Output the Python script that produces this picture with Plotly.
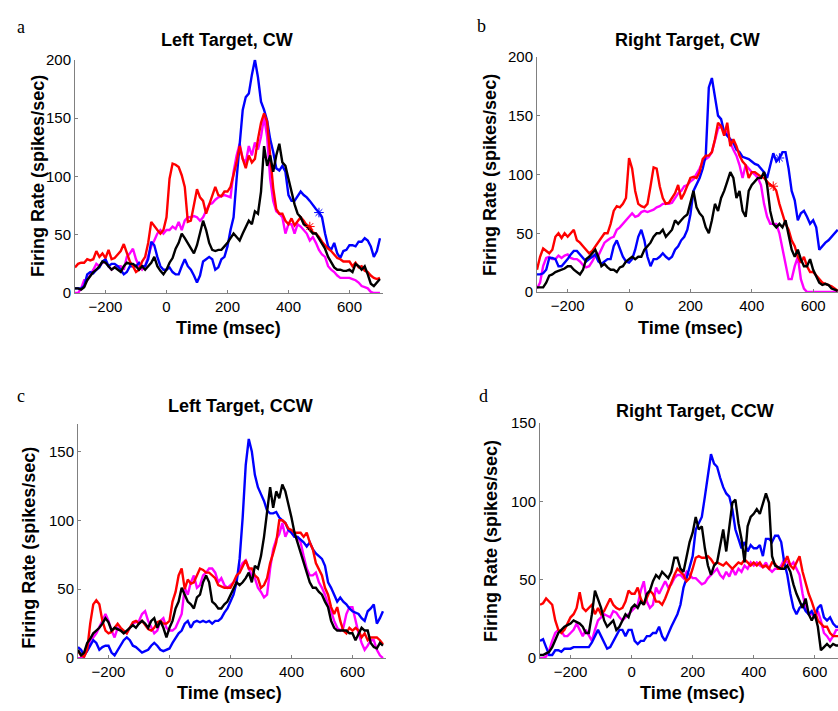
import plotly.graph_objects as go

# ---------------- data (firing rate, spikes/sec) ----------------
TIME = list(range(-300, 710, 10))  # msec, 10 ms bins

# Panel a: Left Target, CW  (-300 .. 700)
A_BLUE = [4, 4, 4, 6, 16, 18, 17, 20, 22, 27,
          29, 23, 25, 25, 23, 20, 16, 18, 23, 23,
          23, 26, 23, 23, 29, 44, 41, 31, 23, 20,
          20, 22, 18, 16, 16, 23, 29, 23, 20, 15,
          9, 15, 27, 29, 31, 29, 20, 22, 29, 31,
          40, 54, 65, 98, 126, 157, 168, 171, 187, 200,
          185, 164, 157, 148, 132, 121, 107, 105, 109, 104,
          84, 79, 79, 83, 87, 84, 82, 79, 75, 72,
          69, 65, 51, 40, 37, 43, 34, 30, 36, 37,
          41, 41, 40, 44, 44, 47, 45, 40, 31, 36,
          47]
A_RED = [22, 25, 26, 26, 29, 28, 29, 36, 31, 34,
         30, 37, 29, 30, 33, 36, 42, 34, 27, 23,
         18, 20, 27, 31, 43, 61, 57, 54, 51, 54,
         65, 98, 111, 110, 108, 101, 91, 61, 62, 76,
         89, 82, 79, 68, 76, 83, 91, 84, 83, 87,
         87, 91, 101, 112, 126, 115, 107, 118, 112, 115,
         132, 146, 154, 147, 118, 90, 72, 68, 68, 62,
         59, 64, 58, 62, 65, 62, 58, 57, 52, 51,
         48, 44, 41, 38, 36, 33, 30, 29, 27, 27,
         27, 23, 26, 22, 23, 19, 18, 15, 13, 12,
         13]
A_MAGENTA = [0, 0, 4, 11, 11, 15, 20, 25, 23, 26,
             27, 23, 20, 22, 23, 23, 20, 31, 34, 38,
             29, 23, 20, 23, 31, 40, 45, 51, 54, 51,
             54, 54, 57, 55, 61, 54, 62, 65, 65, 66,
             65, 62, 65, 70, 76, 77, 80, 82, 83, 84,
             83, 82, 104, 118, 128, 115, 112, 126, 118, 129,
             123, 134, 151, 134, 98, 79, 70, 68, 65, 51,
             59, 59, 51, 59, 57, 54, 51, 45, 48, 43,
             37, 33, 31, 23, 20, 18, 15, 13, 13, 13,
             13, 12, 11, 9, 6, 5, 4, 1, 0, 0,
             0]
A_BLACK = [4, 4, 3, 5, 11, 15, 18, 20, 23, 27,
           26, 23, 20, 22, 20, 18, 23, 26, 25, 25,
           23, 20, 23, 20, 23, 26, 31, 23, 19, 16,
           20, 26, 30, 38, 43, 51, 47, 43, 38, 34,
           41, 51, 62, 54, 43, 37, 36, 37, 37, 40,
           43, 47, 51, 48, 45, 51, 57, 62, 59, 70,
           68, 87, 126, 109, 118, 104, 118, 128, 112, 109,
           98, 87, 76, 68, 65, 59, 57, 54, 51, 51,
           47, 43, 38, 31, 26, 22, 20, 20, 19, 19,
           20, 18, 25, 23, 20, 23, 16, 8, 6, 9,
           12]

# Panel b: Right Target, CW  (-300 .. 680)
B_BLUE = [15, 15, 16, 19, 29, 29, 28, 22, 22, 25,
          28, 32, 35, 35, 32, 29, 26, 28, 30, 32,
          26, 24, 26, 28, 28, 39, 44, 37, 30, 26,
          25, 28, 36, 47, 53, 44, 30, 22, 28, 28,
          30, 33, 30, 28, 30, 36, 39, 44, 47, 53,
          66, 86, 91, 97, 105, 116, 174, 182, 166, 150,
          147, 136, 133, 130, 127, 121, 119, 115, 114, 113,
          111, 109, 108, 105, 102, 97, 108, 118, 111, 114,
          119, 119, 105, 86, 78, 61, 67, 69, 64, 58,
          61, 55, 36, 39, 42, 44, 47, 50, 53]
B_RED = [19, 30, 37, 35, 33, 36, 47, 50, 46, 50,
         47, 50, 53, 44, 42, 39, 36, 33, 35, 39,
         42, 47, 50, 50, 58, 69, 73, 72, 75, 80,
         114, 105, 86, 75, 73, 72, 75, 90, 106, 105,
         90, 80, 75, 76, 80, 84, 91, 79, 84, 91,
         97, 98, 97, 102, 113, 116, 116, 119, 130, 144,
         141, 133, 144, 124, 130, 124, 116, 111, 108, 97,
         102, 102, 100, 98, 97, 94, 91, 90, 86, 75,
         66, 58, 53, 44, 39, 30, 25, 30, 22, 17,
         17, 14, 11, 8, 7, 6, 5, 3, 1]
B_MAGENTA = [3, 8, 22, 29, 30, 28, 28, 31, 29, 31,
             32, 29, 28, 28, 26, 23, 21, 22, 26, 31,
             31, 36, 42, 44, 46, 47, 53, 55, 58, 61,
             64, 67, 64, 65, 68, 69, 68, 69, 70, 72,
             73, 75, 75, 75, 76, 80, 84, 86, 90, 91,
             94, 96, 100, 105, 111, 113, 115, 119, 130, 139,
             141, 137, 136, 127, 121, 116, 108, 97, 108, 105,
             102, 100, 97, 91, 75, 64, 58, 58, 58, 50,
             36, 22, 11, 11, 22, 30, 11, 3, 0, 0,
             0, 0, 0, 0, 0, 0, 0, 0, 0]
B_BLACK = [4, 4, 4, 8, 14, 15, 17, 18, 19, 20,
           22, 22, 19, 17, 15, 19, 28, 30, 33, 36,
           30, 22, 24, 21, 19, 19, 17, 21, 22, 26,
           28, 30, 28, 30, 30, 36, 39, 42, 47, 50,
           50, 53, 47, 50, 53, 61, 58, 61, 64, 66,
           75, 86, 72, 67, 64, 55, 50, 61, 75, 69,
           80, 86, 94, 102, 97, 80, 86, 69, 64, 86,
           91, 94, 97, 97, 102, 91, 69, 58, 55, 58,
           55, 61, 47, 36, 30, 36, 28, 22, 22, 28,
           19, 14, 8, 6, 7, 6, 3, 2, 1]

# Panel c: Left Target, CCW  (-300 .. 700)
C_BLUE = [8, 6, 2, 5, 9, 13, 11, 6, 8, 9,
          9, 4, 2, 6, 9, 13, 15, 13, 9, 8,
          6, 4, 5, 6, 9, 11, 9, 6, 5, 6,
          7, 11, 15, 18, 20, 25, 27, 22, 26, 27,
          26, 27, 26, 27, 25, 27, 27, 29, 33, 36,
          41, 46, 55, 72, 102, 140, 159, 150, 133, 124,
          119, 114, 107, 105, 105, 106, 102, 100, 98, 93,
          91, 88, 88, 86, 84, 81, 84, 79, 76, 74,
          72, 67, 55, 51, 46, 41, 44, 41, 39, 36,
          34, 33, 32, 29, 27, 34, 36, 39, 25, 29,
          34]
C_RED = [5, 2, 1, 6, 25, 39, 42, 39, 27, 20,
         18, 19, 22, 25, 22, 20, 18, 22, 26, 27,
         25, 27, 24, 21, 20, 22, 26, 27, 25, 25,
         27, 41, 48, 60, 65, 50, 57, 54, 55, 60,
         65, 64, 62, 62, 60, 58, 53, 52, 51, 51,
         51, 55, 60, 62, 66, 71, 65, 65, 60, 58,
         51, 53, 58, 69, 76, 84, 100, 100, 98, 94,
         93, 91, 91, 91, 88, 91, 84, 79, 69, 65,
         60, 51, 46, 37, 32, 37, 27, 20, 18, 22,
         20, 22, 20, 15, 18, 13, 15, 15, 15, 13,
         10]
C_MAGENTA = [0, 0, 1, 6, 13, 15, 18, 22, 27, 32,
             27, 20, 15, 22, 20, 19, 18, 22, 25, 26,
             27, 32, 34, 27, 22, 18, 20, 27, 29, 22,
             20, 20, 22, 27, 32, 51, 46, 55, 60, 51,
             53, 60, 62, 65, 65, 62, 55, 58, 53, 51,
             53, 55, 58, 65, 69, 71, 65, 60, 58, 51,
             48, 44, 46, 65, 79, 86, 90, 98, 88, 93,
             91, 88, 88, 84, 74, 65, 60, 60, 62, 55,
             51, 46, 39, 34, 27, 22, 20, 22, 32, 37,
             37, 27, 18, 11, 6, 9, 13, 13, 6, 2,
             0]
C_BLACK = [6, 2, 4, 11, 14, 18, 20, 22, 25, 29,
           26, 20, 22, 21, 20, 18, 20, 22, 24, 22,
           25, 27, 25, 22, 27, 29, 22, 27, 22, 15,
           22, 27, 36, 41, 51, 46, 41, 39, 36, 44,
           46, 55, 60, 55, 41, 39, 36, 36, 39, 41,
           46, 51, 55, 53, 55, 58, 62, 55, 67, 65,
           74, 88, 105, 124, 109, 121, 116, 126, 121, 112,
           102, 91, 84, 76, 69, 62, 55, 51, 51, 48,
           46, 41, 37, 27, 22, 20, 20, 20, 20, 18,
           18, 13, 18, 22, 20, 20, 11, 8, 7, 11,
           9]

# Panel d: Right Target, CCW  (-300 .. 680)
D_BLUE = [11, 12, 7, 2, 2, 5, 5, 4, 6, 6,
          6, 7, 7, 7, 7, 7, 7, 10, 14, 18,
          14, 10, 6, 7, 11, 14, 18, 18, 14, 18,
          18, 11, 9, 11, 11, 14, 14, 16, 16, 20,
          14, 11, 16, 20, 24, 28, 34, 45, 51, 59,
          65, 82, 86, 90, 103, 117, 130, 124, 122, 115,
          109, 105, 103, 95, 82, 76, 70, 74, 68, 72,
          70, 70, 72, 65, 76, 76, 74, 78, 78, 74,
          61, 53, 41, 32, 28, 32, 34, 30, 28, 30,
          26, 32, 34, 26, 24, 26, 22, 20, 20]
D_RED = [34, 35, 38, 36, 34, 24, 18, 16, 18, 22,
         26, 28, 32, 42, 32, 30, 32, 34, 28, 32,
         28, 30, 34, 38, 34, 32, 31, 32, 36, 43,
         41, 41, 45, 38, 34, 38, 43, 41, 36, 36,
         34, 38, 43, 49, 53, 57, 55, 53, 49, 51,
         57, 64, 65, 64, 64, 65, 63, 60, 61, 60,
         59, 61, 59, 57, 59, 61, 60, 63, 61, 59,
         61, 59, 61, 58, 59, 57, 61, 60, 57, 57,
         61, 65, 59, 57, 61, 65, 55, 47, 41, 36,
         30, 24, 22, 20, 20, 16, 14, 14, 14]
D_MAGENTA = [0, 0, 1, 5, 11, 16, 18, 17, 14, 14,
             16, 18, 22, 18, 14, 18, 14, 11, 18, 24,
             26, 28, 27, 26, 30, 29, 26, 24, 26, 28,
             30, 32, 34, 43, 49, 36, 32, 34, 45, 41,
             45, 49, 45, 47, 51, 53, 53, 51, 55, 53,
             51, 51, 49, 47, 48, 51, 53, 55, 57, 53,
             51, 55, 52, 57, 53, 57, 55, 59, 57, 61,
             59, 61, 59, 58, 61, 57, 55, 57, 57, 59,
             63, 61, 59, 61, 57, 53, 41, 32, 28, 28,
             26, 30, 24, 16, 14, 11, 14, 18, 18]
D_BLACK = [2, 2, 3, 4, 7, 11, 16, 18, 20, 21,
           22, 24, 23, 22, 20, 16, 16, 28, 43, 38,
           32, 24, 20, 22, 24, 18, 20, 24, 28, 26,
           32, 34, 32, 36, 34, 41, 43, 49, 53, 51,
           55, 53, 51, 55, 64, 64, 57, 55, 65, 74,
           80, 90, 82, 84, 70, 59, 53, 59, 61, 72,
           82, 68, 84, 99, 101, 86, 76, 61, 84, 90,
           92, 95, 92, 99, 105, 99, 65, 59, 58, 57,
           57, 59, 55, 47, 41, 36, 32, 38, 28, 24,
           28, 20, 5, 7, 9, 7, 9, 8, 8]

# event markers (time in msec) drawn on the curves
A_MARKS = {"blue": 500, "red": 470}
B_MARKS = {"blue": 490, "red": 470}

TITLES = ["Left Target, CW", "Right Target, CW", "Left Target, CCW", "Right Target, CCW"]
LETTERS = ["a", "b", "c", "d"]
X_TICKS = [-200, 0, 200, 400, 600]
Y_TICKS_TOP = [0, 50, 100, 150, 200]
Y_TICKS_BOTTOM = [0, 50, 100, 150]
X_LABEL = "Time (msec)"
Y_LABEL = "Firing Rate (spikes/sec)"

COLORS = {"magenta": "#FF00FF", "blue": "#0000FF", "red": "#FF0000", "black": "#000000"}

W, H = 838, 711
def px(x):
    return x / W
def py(y):
    return 1 - y / H

panels = [
    dict(series={"magenta": A_MAGENTA, "blue": A_BLUE, "red": A_RED, "black": A_BLACK},
         marks=A_MARKS, xdom=(75, 383), ydom=(291, 52), xr=[-300, 710], yr=[0, 200],
         yt=Y_TICKS_TOP, title=(227, 32), letter=(21, 18), ylab=(38, 171), xlab=(228, 327)),
    dict(series={"magenta": B_MAGENTA, "blue": B_BLUE, "red": B_RED, "black": B_BLACK},
         marks=B_MARKS, xdom=(537, 838), ydom=(290, 49), xr=[-300, 681], yr=[0, 200],
         yt=Y_TICKS_TOP, title=(687, 32), letter=(482, 17), ylab=(490, 170), xlab=(690, 327)),
    dict(series={"magenta": C_MAGENTA, "blue": C_BLUE, "red": C_RED, "black": C_BLACK},
         marks={}, xdom=(78, 386), ydom=(665, 425), xr=[-300, 710], yr=[0, 170],
         yt=Y_TICKS_BOTTOM, title=(240, 407), letter=(21, 396), ylab=(29, 552), xlab=(230, 701)),
    dict(series={"magenta": D_MAGENTA, "blue": D_BLUE, "red": D_RED, "black": D_BLACK},
         marks={}, xdom=(540, 838), ydom=(665, 424), xr=[-300, 676], yr=[0, 150],
         yt=Y_TICKS_BOTTOM, title=(695, 412), letter=(483, 396), ylab=(491, 545), xlab=(692, 701)),
]

FONT = "Liberation Sans, Arial, Helvetica, sans-serif"
fig = go.Figure()
annotations = []
layout = {}

for i, p in enumerate(panels):
    n = "" if i == 0 else str(i + 1)
    xa, ya = "x" + n, "y" + n
    for name in ["magenta", "blue", "red", "black"]:
        vals = p["series"][name]
        fig.add_trace(go.Scatter(x=TIME[:len(vals)], y=vals, mode="lines",
                                 line=dict(color=COLORS[name], width=2.4),
                                 xaxis=xa, yaxis=ya, showlegend=False, hoverinfo="skip"))
    for name, t in p["marks"].items():
        vals = p["series"][name]
        k = TIME.index(t)
        fig.add_trace(go.Scatter(x=[t], y=[vals[k]], mode="markers",
                                 marker=dict(symbol="asterisk-open", size=8, color=COLORS[name],
                                             line=dict(color=COLORS[name], width=1)),
                                 xaxis=xa, yaxis=ya, showlegend=False, hoverinfo="skip"))
    layout["xaxis" + n] = dict(domain=[px(p["xdom"][0]), px(p["xdom"][1])], range=p["xr"],
                               anchor=ya, tickvals=X_TICKS, ticks="inside", ticklen=3,
                               tickcolor="#808080", showline=True, linecolor="#808080",
                               linewidth=1, showgrid=False, zeroline=False,
                               tickfont=dict(family=FONT, size=15, color="black"))
    layout["yaxis" + n] = dict(domain=[py(p["ydom"][0]), py(p["ydom"][1])], range=p["yr"],
                               anchor=xa, tickvals=p["yt"], ticks="inside", ticklen=3,
                               tickcolor="#808080", showline=True, linecolor="#808080",
                               linewidth=1, showgrid=False, zeroline=False,
                               tickfont=dict(family=FONT, size=15, color="black"))
    annotations.append(dict(text="<b>%s</b>" % TITLES[i], x=px(p["title"][0]), y=py(p["title"][1]),
                            xref="paper", yref="paper", showarrow=False, xanchor="center",
                            yanchor="middle", font=dict(family=FONT, size=18, color="black")))
    annotations.append(dict(text=LETTERS[i], x=px(p["letter"][0]), y=py(p["letter"][1]),
                            xref="paper", yref="paper", showarrow=False, xanchor="center",
                            yanchor="middle",
                            font=dict(family="Liberation Serif, Times New Roman, serif",
                                      size=18, color="black")))
    annotations.append(dict(text="<b>%s</b>" % Y_LABEL, x=px(p["ylab"][0]), y=py(p["ylab"][1]),
                            xref="paper", yref="paper", showarrow=False, textangle=-90,
                            xanchor="center", yanchor="middle",
                            font=dict(family=FONT, size=18, color="black")))
    annotations.append(dict(text="<b>%s</b>" % X_LABEL, x=px(p["xlab"][0]), y=py(p["xlab"][1]),
                            xref="paper", yref="paper", showarrow=False,
                            xanchor="center", yanchor="middle",
                            font=dict(family=FONT, size=18, color="black")))

fig.update_layout(width=W, height=H, margin=dict(l=0, r=0, t=0, b=0),
                  paper_bgcolor="white", plot_bgcolor="white",
                  annotations=annotations, **layout)

fig.write_html("out.html", config={"displayModeBar": False},
               post_script="document.body.style.margin='0';document.body.style.overflow='hidden';")
